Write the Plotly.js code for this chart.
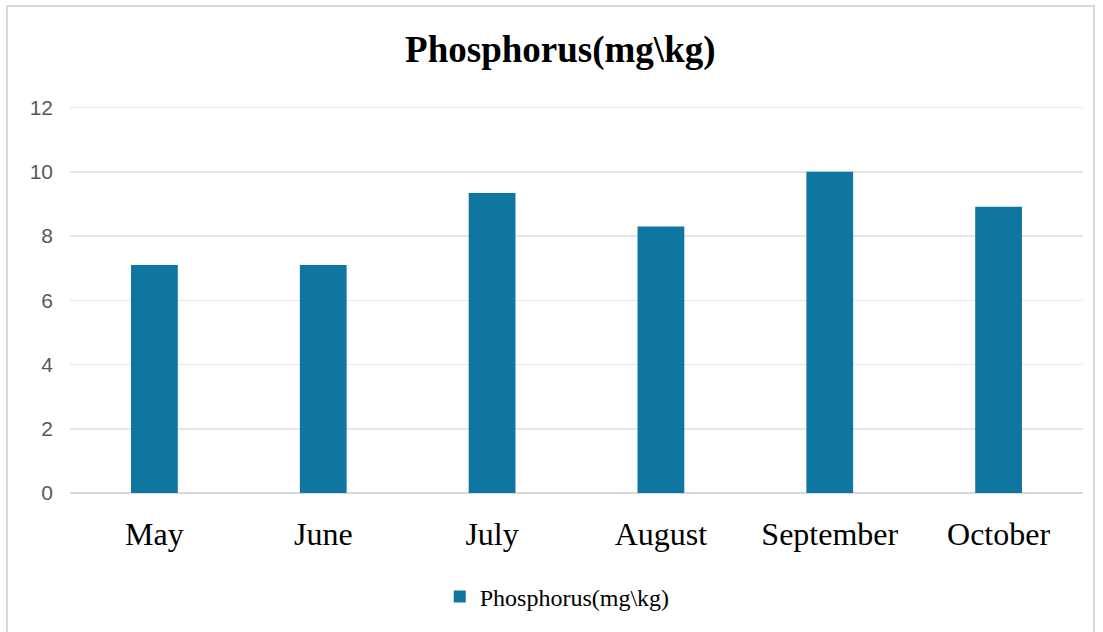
<!DOCTYPE html>
<html>
<head>
<meta charset="utf-8">
<script src="https://cdn.plot.ly/plotly-3.0.1.min.js"></script>
<style>
html,body{margin:0;padding:0;background:#fff;}
#frame{position:absolute;left:6px;top:5px;width:1089px;height:640px;border:2px solid #d9d9d9;box-sizing:border-box;}
#chart{position:absolute;left:0;top:0;width:1103px;height:632px;}
</style>
</head>
<body>
<div id="frame"></div>
<div id="chart"></div>
<script>
const months = ["May", "June", "July", "August", "September", "October"];
const phosphorus = [7.1, 7.1, 9.34, 8.3, 10.0, 8.91];
const yTicks = [0, 2, 4, 6, 8, 10, 12];
const seriesName = "Phosphorus(mg\\kg)";

const trace = {
  type: "bar",
  x: months,
  y: phosphorus,
  name: seriesName,
  marker: {color: "#0e76a0"},
  showlegend: true
};

const layout = {
  width: 1103,
  height: 632,
  paper_bgcolor: "rgba(0,0,0,0)",
  plot_bgcolor: "rgba(0,0,0,0)",
  margin: {l: 70, r: 20, t: 98, b: 139},
  bargap: 0.723,
  title: {
    text: "<b>" + seriesName + "</b>",
    font: {family: "Liberation Serif, Times New Roman, serif", size: 37, color: "#000"},
    x: 0.508, xanchor: "center", y: 0.922, yanchor: "middle"
  },
  xaxis: {
    tickfont: {family: "Liberation Serif, Times New Roman, serif", size: 32, color: "#000"},
    showgrid: false,
    showline: false,
    zeroline: false,
    ticks: "",
    ticklabelstandoff: 19
  },
  yaxis: {
    range: [0, 12.3],
    tickvals: yTicks,
    ticktext: yTicks.map(String),
    tickfont: {family: "Liberation Sans, Arial, sans-serif", size: 21, color: "#595959"},
    gridcolor: "#e6e6e6",
    gridwidth: 1.5,
    zeroline: true,
    zerolinecolor: "#d9d9d9",
    zerolinewidth: 1.5,
    showline: false,
    ticks: "",
    ticklabelstandoff: 16
  },
  legend: {
    orientation: "h",
    x: 0.481, xanchor: "center",
    y: -0.263, yanchor: "middle",
    font: {family: "Liberation Serif, Times New Roman, serif", size: 24, color: "#000"},
    itemwidth: 30
  }
};

Plotly.newPlot("chart", [trace], layout, {displayModeBar: false, staticPlot: true});
</script>
</body>
</html>
